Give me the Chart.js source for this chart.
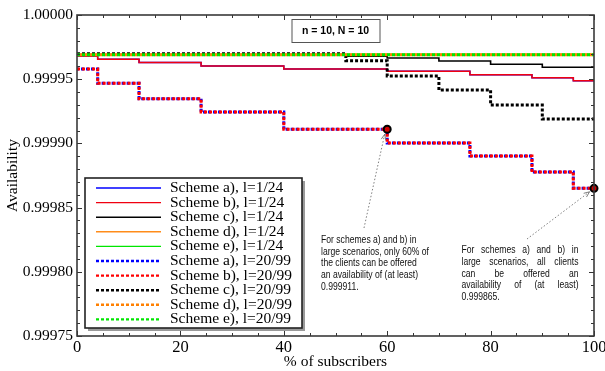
<!DOCTYPE html>
<html>
<head>
<meta charset="utf-8">
<script src="https://cdn.jsdelivr.net/npm/chart.js@4.4.0/dist/chart.umd.min.js"></script>
<style>
  html, body { margin: 0; padding: 0; background: #fff; }
  canvas { display: block; }
</style>
</head>
<body>
<canvas id="availabilityChart" width="605" height="371"></canvas>
<script>
// % of subscribers where each curve steps down
const stepsAB = [0, 4, 12, 24, 40, 60, 76, 88, 96, 100];
const stepsC = [0, 52, 60, 70, 80, 90, 100];
const stepsFlat = [0, 100];

// l = 1/24
const schemeA_l124 = [0.999968, 0.9999655, 0.999963, 0.9999603, 0.999958, 0.9999562, 0.9999535, 0.9999512, 0.9999488, 0.9999488];
const schemeB_l124 = [0.999968, 0.9999655, 0.999963, 0.9999603, 0.999958, 0.9999562, 0.9999535, 0.9999512, 0.9999488, 0.9999488];
const schemeC_l124 = [0.999969, 0.999968, 0.9999665, 0.9999642, 0.9999616, 0.9999593, 0.9999593];
const schemeD_l124 = [0.9999692, 0.9999692];
const schemeE_l124 = [0.9999692, 0.9999692];

// l = 20/99
const schemeA_l2099 = [0.999958, 0.9999468, 0.9999348, 0.9999245, 0.999911, 0.9999003, 0.9998902, 0.9998777, 0.999865, 0.999865];
const schemeB_l2099 = [0.999958, 0.9999468, 0.9999348, 0.9999245, 0.999911, 0.9999003, 0.9998902, 0.9998777, 0.999865, 0.999865];
const schemeC_l2099 = [0.9999698, 0.9999644, 0.9999525, 0.9999416, 0.9999299, 0.999919, 0.999919];
const schemeD_l2099 = [0.999969, 0.999969];
const schemeE_l2099 = [0.999969, 0.999969];

// circled points referenced by the notes
const highlightX = [60, 100];
const highlightY = [0.999911, 0.999865];

const xTicks = [0, 20, 40, 60, 80, 100];
const yTicks = [0.99975, 0.9998, 0.99985, 0.9999, 0.99995, 1.0];

const noteLeft = ['For schemes a) and b) in', 'large scenarios, only 60% of', 'the clients can be offered', 'an availability of (at least)', '0.999911.'];
const noteRight = ['For schemes a) and b) in', 'large scenarios, all clients', 'can be offered an', 'availability of (at least)', '0.999865.'];
const boxLabel = 'n = 10, N = 10';

const series = [
    { label: 'Scheme a), l=1/24', xs: stepsAB, ys: schemeA_l124, color: '#0000ff', dashed: false, width: 1.5 },
    { label: 'Scheme b), l=1/24', xs: stepsAB, ys: schemeB_l124, color: '#f00010', dashed: false, width: 1.5 },
    { label: 'Scheme c), l=1/24', xs: stepsC, ys: schemeC_l124, color: '#000000', dashed: false },
    { label: 'Scheme d), l=1/24', xs: stepsFlat, ys: schemeD_l124, color: '#ff8c1a', dashed: false },
    { label: 'Scheme e), l=1/24', xs: stepsFlat, ys: schemeE_l124, color: '#00e600', dashed: false },
    { label: 'Scheme a), l=20/99', xs: stepsAB, ys: schemeA_l2099, color: '#0000ff', dashed: true, offset: 1 },
    { label: 'Scheme b), l=20/99', xs: stepsAB, ys: schemeB_l2099, color: '#ff0000', dashed: true },
    { label: 'Scheme c), l=20/99', xs: stepsC, ys: schemeC_l2099, color: '#000000', dashed: true },
    { label: 'Scheme d), l=20/99', xs: stepsFlat, ys: schemeD_l2099, color: '#ff8000', dashed: true, offset: 2.5 },
    { label: 'Scheme e), l=20/99', xs: stepsFlat, ys: schemeE_l2099, color: '#00e600', dashed: true }
];

const serif = '"Liberation Serif", "Times New Roman", serif';
const sans = '"Liberation Sans", Arial, sans-serif';

const datasets = series.map((s, i) => ({
    label: s.label,
    data: s.xs.map((x, j) => ({ x: x, y: s.ys[j] })),
    borderColor: s.color,
    backgroundColor: s.color,
    borderWidth: s.width || (s.dashed ? 3 : 1.6),
    borderDash: s.dashed ? [3, 2] : [],
    borderDashOffset: s.offset || 0,
    stepped: 'before',
    pointRadius: 0,
    fill: false,
    order: 30 - i // later series sit on top
}));

datasets.push({
    label: 'highlight',
    data: highlightX.map((x, i) => ({ x: x, y: highlightY[i] })),
    showLine: false,
    pointRadius: 3.5,
    pointBorderWidth: 2,
    pointBorderColor: '#000',
    pointBackgroundColor: '#d00000',
    clip: false,
    order: 0
});

// frame with inward ticks on all four sides
const frameTicks = {
    id: 'frameTicks',
    afterDatasetsDraw(chart) {
        const { ctx, chartArea: a, scales: { x, y } } = chart;
        ctx.save();
        ctx.strokeStyle = '#333';
        ctx.lineWidth = 1;
        ctx.beginPath();
        for (let i = 0; i <= 20; i++) {
            const px = Math.round(x.getPixelForValue(i * 5)) + 0.5;
            const len = i % 4 === 0 ? 5 : 3;
            ctx.moveTo(px, a.bottom); ctx.lineTo(px, a.bottom - len);
            ctx.moveTo(px, a.top); ctx.lineTo(px, a.top + len);
        }
        for (let i = 0; i <= 25; i++) {
            const py = Math.round(y.getPixelForValue(0.99975 + i * 0.00001)) + 0.5;
            const len = i % 5 === 0 ? 5 : 3;
            ctx.moveTo(a.left, py); ctx.lineTo(a.left + len, py);
            ctx.moveTo(a.right, py); ctx.lineTo(a.right - len, py);
        }
        ctx.stroke();
        ctx.lineWidth = 1.6;
        ctx.strokeStyle = '#3a3a3a';
        ctx.strokeRect(a.left, a.top, a.right - a.left, a.bottom - a.top);
        ctx.restore();
    }
};

function drawNote(ctx, lines, x, y, lineH, width, justify, sx) {
    ctx.save();
    ctx.translate(x, 0);
    ctx.scale(sx, 1);
    const w = width / sx;
    lines.forEach((line, i) => {
        const ly = y + i * lineH;
        const words = line.split(' ');
        if (!justify || i === lines.length - 1 || words.length < 2) {
            ctx.fillText(line, 0, ly);
            return;
        }
        const wordsW = words.reduce((sum, wd) => sum + ctx.measureText(wd).width, 0);
        const gap = (w - wordsW) / (words.length - 1);
        let cx = 0;
        words.forEach(wd => {
            ctx.fillText(wd, cx, ly);
            cx += ctx.measureText(wd).width + gap;
        });
    });
    ctx.restore();
}

function drawArrow(ctx, x0, y0, x1, y1) {
    const ang = Math.atan2(y1 - y0, x1 - x0);
    ctx.save();
    ctx.strokeStyle = '#707070';
    ctx.lineWidth = 0.9;
    ctx.setLineDash([1.5, 2]);
    ctx.beginPath();
    ctx.moveTo(x0, y0);
    ctx.lineTo(x1, y1);
    ctx.stroke();
    ctx.setLineDash([]);
    ctx.beginPath();
    ctx.moveTo(x1 - 6 * Math.cos(ang - 0.4), y1 - 6 * Math.sin(ang - 0.4));
    ctx.lineTo(x1, y1);
    ctx.lineTo(x1 - 6 * Math.cos(ang + 0.4), y1 - 6 * Math.sin(ang + 0.4));
    ctx.stroke();
    ctx.restore();
}

const notes = {
    id: 'notes',
    afterDraw(chart) {
        const { ctx, chartArea: a, scales: { x, y } } = chart;
        ctx.save();

        // parameter box
        const cx = x.getPixelForValue(50);
        ctx.fillStyle = '#fff';
        ctx.fillRect(cx - 44, a.top + 4, 88, 23);
        ctx.strokeStyle = '#555';
        ctx.lineWidth = 1;
        ctx.strokeRect(cx - 44 + 0.5, a.top + 4.5, 88, 23);
        ctx.fillStyle = '#000';
        ctx.font = 'bold 10.5px ' + sans;
        ctx.textAlign = 'center';
        ctx.textBaseline = 'middle';
        ctx.fillText(boxLabel, cx, a.top + 16.5);

        // notes
        ctx.textAlign = 'left';
        ctx.font = '10.6px ' + sans;
        ctx.fillStyle = '#111';
        const sx = 108 / ctx.measureText(noteLeft[1]).width;
        drawNote(ctx, noteLeft, 321, 240, 11.7, 0, false, sx);
        drawNote(ctx, noteRight, 461.5, 250.5, 11.6, 117, true, sx);

        // arrows to the circled points
        const p1 = { x: x.getPixelForValue(highlightX[0]), y: y.getPixelForValue(highlightY[0]) };
        const p2 = { x: x.getPixelForValue(highlightX[1]), y: y.getPixelForValue(highlightY[1]) };
        drawArrow(ctx, 364, 228, p1.x - 2.5, p1.y + 5);
        drawArrow(ctx, 527, 239, p2.x - 4.5, p2.y + 3.5);
        ctx.restore();

        // legend
        const bx = a.left + 8, by = 178, bw = 217, bh = 150;
        ctx.save();
        ctx.fillStyle = '#9a9a9a';
        ctx.fillRect(bx + 3, by + 3, bw, bh);
        ctx.fillStyle = '#fff';
        ctx.fillRect(bx, by, bw, bh);
        ctx.strokeStyle = '#222';
        ctx.lineWidth = 1.6;
        ctx.strokeRect(bx, by, bw, bh);
        ctx.font = '15.5px ' + serif;
        ctx.textBaseline = 'middle';
        ctx.textAlign = 'left';
        series.forEach((s, i) => {
            const ry = by + 10 + i * 14.6;
            ctx.beginPath();
            ctx.strokeStyle = s.color;
            ctx.lineWidth = s.dashed ? 2.4 : 1.4;
            ctx.setLineDash(s.dashed ? [3, 2] : []);
            ctx.moveTo(bx + 11, ry);
            ctx.lineTo(bx + 76, ry);
            ctx.stroke();
            ctx.fillStyle = '#000';
            ctx.fillText(s.label, bx + 85, ry);
        });
        ctx.restore();
    }
};

new Chart(document.getElementById('availabilityChart'), {
    type: 'line',
    data: { datasets: datasets },
    plugins: [frameTicks, notes],
    options: {
        responsive: false,
        animation: false,
        devicePixelRatio: 1,
        layout: { padding: { top: 15, right: 11, left: 0, bottom: 0 } },
        plugins: {
            legend: { display: false },
            tooltip: { enabled: false }
        },
        scales: {
            x: {
                type: 'linear',
                min: 0,
                max: 100,
                afterBuildTicks: s => { s.ticks = xTicks.map(v => ({ value: v })); },
                afterFit: s => { s.height = 35; s.paddingLeft = 0; s.paddingRight = 0; },
                grid: { display: false, drawTicks: false },
                border: { display: false },
                ticks: {
                    color: '#000',
                    padding: 2,
                    maxRotation: 0,
                    autoSkip: false,
                    font: { family: serif, size: 16.5 }
                },
                title: {
                    display: true,
                    text: '% of subscribers',
                    color: '#000',
                    padding: { top: 0, bottom: 0 },
                    font: { family: serif, size: 15.5 }
                }
            },
            y: {
                type: 'linear',
                min: 0.99975,
                max: 1.0,
                afterBuildTicks: s => { s.ticks = yTicks.map(v => ({ value: v })); },
                afterFit: s => { s.width = 77; s.paddingTop = 0; s.paddingBottom = 0; },
                grid: { display: false, drawTicks: false },
                border: { display: false },
                ticks: {
                    color: '#000',
                    padding: 4,
                    callback: v => v.toFixed(5),
                    font: { family: serif, size: 15.5 }
                },
                title: {
                    display: true,
                    text: 'Availability',
                    color: '#000',
                    padding: { top: 4, bottom: 0 },
                    font: { family: serif, size: 15.5 }
                }
            }
        }
    }
});
</script>
</body>
</html>
